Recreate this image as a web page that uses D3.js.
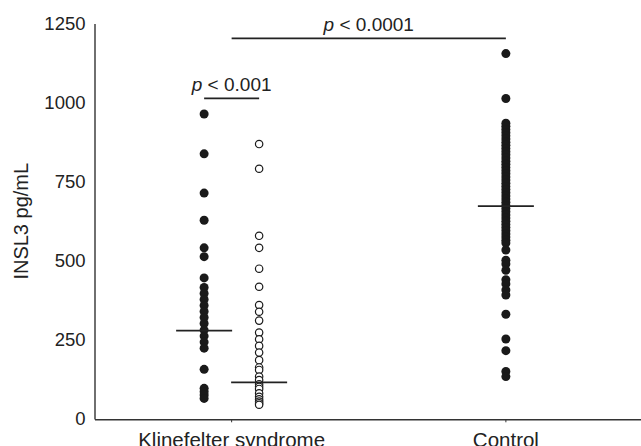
<!DOCTYPE html>
<html>
<head>
<meta charset="utf-8">
<script src="https://cdn.jsdelivr.net/npm/d3@7"></script>
<style>
  body { margin: 0; background: #fff; }
  svg { display: block; font-family: "Liberation Sans", Arial, sans-serif; }
</style>
</head>
<body>
<div id="vis-holder"></div>
<script>
// Set dimensions
const width = 641;
const height = 446;

// groups on the x axis
const groups = ["Klinefelter syndrome", "Control"];
const subgroups = ["before", "after"];
const yTicks = [0, 250, 500, 750, 1000, 1250];

// INSL3 values (pg/mL)
const ksFilled = [964, 838, 714, 628, 541, 513, 446, 416, 397, 378, 359, 340, 321, 302,
                  281, 262, 243, 224, 157, 97, 86, 76, 65];
const ksOpen = [869, 791, 579, 541, 475, 418, 360, 339, 311, 273, 252, 231, 210, 186,
                163, 155, 134, 123, 110, 102, 95, 81, 70, 62, 55, 50, 45];
const control = [1155, 1013, 935, 925, 915, 905, 895, 885, 875, 865, 855, 845, 835, 825,
                 815, 805, 795, 785, 775, 765, 755, 745, 735, 725, 715, 705, 695, 685,
                 675, 665, 655, 645, 635, 625, 615, 605, 595, 585, 575, 565, 556, 534,
                 502, 490, 470, 440, 427, 408, 392, 331, 253, 216, 150, 134];

// medians (horizontal bars)
const medians = [
  {group: "Klinefelter syndrome", sub: "before", value: 279},
  {group: "Klinefelter syndrome", sub: "after", value: 116},
  {group: "Control", sub: null, value: 673}
];

const svg = d3.select("#vis-holder")
              .append("svg")
              .attr("width", width)
              .attr("height", height);

// scales
const x = d3.scaleBand()
            .domain(groups)
            .range([94.5, 643]);

const xSub = d3.scaleBand()
               .domain(subgroups)
               .range([-55, 55]);

const y = d3.scaleLinear()
            .domain([0, 1250])
            .range([419, 23.5]);

const cx = (g, s) => x(g) + x.bandwidth() / 2 + (s ? xSub(s) + xSub.bandwidth() / 2 : 0);

// y axis
svg.append("g")
   .attr("transform", "translate(94.5,0)")
   .call(d3.axisLeft(y).tickValues(yTicks).tickFormat(d3.format("d")).tickSize(0).tickPadding(9))
   .call(g => g.select(".domain").attr("stroke", "#333").attr("stroke-width", 1.4))
   .call(g => g.selectAll("text").attr("font-size", "18.5px").attr("fill", "#222")
                .attr("font-family", "Liberation Sans, Arial, sans-serif"));

// x axis
svg.append("g")
   .attr("transform", "translate(0,419.3)")
   .call(d3.axisBottom(x).tickSize(3).tickSizeOuter(0).tickPadding(10))
   .call(g => g.select(".domain").attr("stroke", "#333").attr("stroke-width", 1.4))
   .call(g => g.selectAll(".tick line").attr("stroke", "#333"))
   .call(g => g.selectAll("text").attr("font-size", "20.5px").attr("fill", "#222")
                .attr("font-family", "Liberation Sans, Arial, sans-serif"));

// y label
svg.append("text")
   .attr("transform", `translate(28,${(y(0) + y(1250)) / 2}) rotate(-90)`)
   .attr("text-anchor", "middle")
   .attr("font-size", "20px")
   .attr("fill", "#222")
   .text("INSL3 pg/mL");

// points
svg.append("g").selectAll("circle")
   .data(ksFilled)
   .enter()
   .append("circle")
     .attr("cx", cx("Klinefelter syndrome", "before"))
     .attr("cy", d => y(d))
     .attr("r", 4.5)
     .attr("fill", "#1a1a1a");

svg.append("g").selectAll("circle")
   .data(ksOpen)
   .enter()
   .append("circle")
     .attr("cx", cx("Klinefelter syndrome", "after"))
     .attr("cy", d => y(d))
     .attr("r", 3.7)
     .attr("fill", "#fff")
     .attr("stroke", "#1a1a1a")
     .attr("stroke-width", 1.2);

svg.append("g").selectAll("circle")
   .data(control)
   .enter()
   .append("circle")
     .attr("cx", cx("Control", null))
     .attr("cy", d => y(d))
     .attr("r", 4.5)
     .attr("fill", "#1a1a1a");

// median bars
svg.append("g").selectAll("line")
   .data(medians)
   .enter()
   .append("line")
     .attr("x1", d => cx(d.group, d.sub) - 28)
     .attr("x2", d => cx(d.group, d.sub) + 28)
     .attr("y1", d => y(d.value))
     .attr("y2", d => y(d.value))
     .attr("stroke", "#222")
     .attr("stroke-width", 1.8);

// significance brackets
function sigBar(x1, x2, yPos, label) {
  svg.append("line")
     .attr("x1", x1).attr("x2", x2)
     .attr("y1", yPos).attr("y2", yPos)
     .attr("stroke", "#222")
     .attr("stroke-width", 1.8);
  const t = svg.append("text")
     .attr("x", (x1 + x2) / 2)
     .attr("y", yPos - 7)
     .attr("text-anchor", "middle")
     .attr("font-size", "19px")
     .attr("fill", "#222");
  t.append("tspan").attr("font-style", "italic").text("p");
  t.append("tspan").text(" < " + label);
}

sigBar(cx("Klinefelter syndrome", "before"), cx("Klinefelter syndrome", "after"), 98.3, "0.001");
sigBar(x("Klinefelter syndrome") + x.bandwidth() / 2, cx("Control", null), 38.3, "0.0001");
</script>
</body>
</html>
